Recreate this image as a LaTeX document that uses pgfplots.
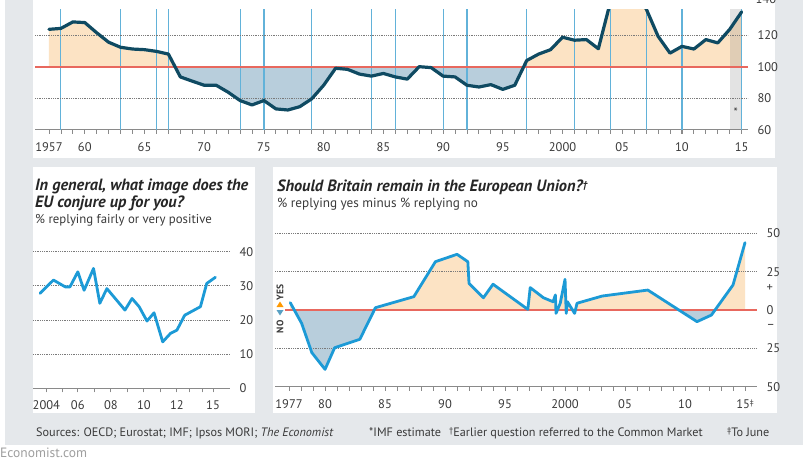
\documentclass[border=0pt]{standalone}
\usepackage{pgfplots}
\pgfplotsset{compat=1.18}
\usepackage{pgfplotstable}
\usepackage{fontspec}
\setmainfont{PT Sans}
\definecolor{bg}{HTML}{E5E8EB}
\definecolor{peach}{HTML}{FCE3C4}
\definecolor{bluefill}{HTML}{B8CEDC}
\definecolor{darkline}{HTML}{0F4A62}
\definecolor{vblue}{HTML}{62B2D9}
\definecolor{redline}{HTML}{E8685E}
\definecolor{brightblue}{HTML}{1C9AD6}
\definecolor{axisgray}{HTML}{8A8A8A}
\definecolor{labelgray}{HTML}{3A3A3A}
\definecolor{gridgray}{HTML}{7A7A7A}

\pgfplotstableread{
x y
1957 123.9
1958 124.5
1959 128.6
1960 128.2
1961 121.7
1962 115.7
1963 112.5
1964 111.4
1965 111.0
1966 109.9
1967 108.2
1968 93.7
1969 91.0
1970 88.4
1971 88.4
1972 84.0
1973 78.7
1974 75.9
1975 78.7
1976 73.4
1977 72.7
1978 74.8
1979 79.8
1980 88.4
1981 99.2
1982 98.5
1983 95.5
1984 94.2
1985 95.9
1986 93.7
1987 92.3
1988 100.2
1989 99.6
1990 94.2
1991 93.7
1992 88.4
1993 87.3
1994 88.8
1995 85.8
1996 88.4
1997 104.1
1998 108.2
1999 111.0
2000 118.9
2001 117.0
2002 117.4
2003 111.6
2004 141.0
2005 146.0
2006 145.0
2007 137.0
2008 119.5
2009 108.8
2010 113.1
2011 111.4
2012 117.4
2013 115.3
2014 123.9
2015 135.0
}\topdata

\pgfplotstableread{
x y
2004.0 27.8
2004.85 31.7
2005.6 29.7
2005.9 29.7
2006.4 34.1
2006.8 28.7
2007.4 35.1
2007.8 24.9
2008.25 29.2
2009.4 22.9
2009.85 26.3
2010.3 23.9
2010.8 19.7
2011.25 22.1
2011.8 13.6
2012.3 16.1
2012.7 17.0
2013.2 21.4
2014.2 23.9
2014.6 30.7
2015.15 32.5
}\imagedata

\pgfplotstableread{
x y
1977.1 4.8
1978.05 -8.7
1978.9 -27.8
1980.0 -38.7
1980.8 -24.6
1982.9 -19.1
1984.2 1.5
1987.4 8.7
1989.2 31.5
1991.0 36.3
1991.9 31.5
1992.0 17.4
1993.2 8.0
1994.0 16.8
1996.9 0.4
1997.1 14.6
1998.2 8.0
1999.0 5.4
1999.2 9.8
1999.25 -2.2
1999.6 4.4
2000.0 20.0
2000.1 -2.2
2000.2 5.4
2000.8 -2.2
2001.0 4.4
2003.1 9.1
2006.9 13.0
2011.0 -7.6
2012.2 -3.3
2014.0 16.3
2015.0 43.9
}\remaindata

\newcommand{\tlfont}{\fontsize{12.5}{14}\selectfont}

\pgfplotsset{
  econ/.style={
    scale only axis, anchor=south west, enlargelimits=false,
    axis x line*=bottom, axis y line*=right,
    y axis line style={draw=none},
    x axis line style={draw=axisgray, line width=1pt},
    tick align=outside,
    major tick length=4pt, minor tick length=4pt,
    xtick style={draw=axisgray, line width=0.8pt},
    minor tick style={draw=axisgray, line width=0.8pt},
    ytick style={draw=none},
    ticklabel style={font=\tlfont, text=labelgray},
    yticklabel style={anchor=west, xshift=2pt},
    xticklabel style={yshift=-5pt},
    clip=true,
  },
  fillax/.style={scale only axis, anchor=south west, hide axis, enlargelimits=false, clip=true},
}

\begin{document}
\begin{tikzpicture}[x=1pt,y=1pt]
\path[use as bounding box] (0,0) rectangle (803,461);
\clip (0,0) rectangle (803,461);
\fill[white] (0,0) rectangle (803,461);
\fill[bg] (5,16) rectangle (803,461);
\fill[white] (33,303) rectangle (775,461);
\fill[white] (33,48) rectangle (255,294);
\fill[white] (273,48) rectangle (777,294);

% ---------------- top panel: fills (clipped half-axes) ----------------
\begin{axis}[fillax, at={(35pt,394pt)}, width=713pt, height=57.5pt,
  xmin=1955.83, xmax=2015.53, ymin=100, ymax=136.5]
\addplot[fill=peach, draw=none] table[x=x,y=y] {\topdata} -- (axis cs:2015,100) -- (axis cs:1957,100) -- cycle;
\end{axis}
\begin{axis}[fillax, at={(35pt,331pt)}, width=713pt, height=63pt,
  xmin=1955.83, xmax=2015.53, ymin=60, ymax=100]
\addplot[fill=bluefill, draw=none] table[x=x,y=y] {\topdata} -- (axis cs:2015,100) -- (axis cs:1957,100) -- cycle;
\end{axis}

% ---------------- top panel ----------------
\begin{axis}[econ,
  at={(35pt,331pt)}, width=713pt, height=120.5pt,
  xmin=1955.83, xmax=2015.53, ymin=60, ymax=136.5,
  xtick={1957,1960,1965,1970,1975,1980,1985,1990,1995,2000,2005,2010,2015},
  xticklabels={1957,60,65,70,75,80,85,90,95,2000,05,10,15},
  minor xtick={1958,1959,...,2014},
  ytick={60,80,100,120},
  yticklabels={60,80,100,120},
]
\fill[gray, opacity=0.22] (axis cs:2014,60) rectangle (axis cs:2015,140);
\foreach \yr in {1958,1963,1966,1967,1973,1975,1979,1984,1986,1990,1992,1997,2001,2004,2007,2010,2015}{
  \edef\tmp{\noexpand\draw[vblue, line width=1.1pt] (axis cs:\yr,60) -- (axis cs:\yr,140);}\tmp
}
\draw[gridgray, densely dotted, line width=0.8pt] (axis cs:1955.83,80) -- (axis cs:2015.53,80);
\draw[gridgray, densely dotted, line width=0.8pt] (axis cs:1955.83,120) -- (axis cs:2015.53,120);
\draw[redline, line width=1.1pt] (axis cs:1955.83,100) -- (axis cs:2015.53,100);
\addplot[darkline, line width=3.2pt, line join=round, line cap=round] table[x=x,y=y] {\topdata};
\node[font=\fontsize{12}{12}\selectfont, text=labelgray] at (axis cs:2014.5,71) {*};
\end{axis}
\node[anchor=west, inner sep=0, font=\tlfont, text=labelgray] at (755.5,462) {140};

% ---------------- bottom left ----------------
\begin{axis}[econ,
  at={(33pt,72.7pt)}, width=197pt, height=136.6pt,
  xmin=2003.55, xmax=2016.08, ymin=0, ymax=40,
  xtick={2004.4,2006.4,2008.5,2010.6,2012.7,2015},
  xticklabels={2004,06,08,10,12,15},
  minor xtick={2005.4,2007.45,2009.55,2011.65,2013.5,2014.3},
  ytick={0,10,20,30,40},
  yticklabels={0,10,20,30,40},
]
\foreach \v in {10,20,30,40}{
  \edef\tmp{\noexpand\draw[gridgray, densely dotted, line width=0.8pt] (axis cs:2003.55,\v) -- (axis cs:2016.08,\v);}\tmp
}
\addplot[brightblue, line width=2.8pt, line join=round, line cap=round] table[x=x,y=y] {\imagedata};
\end{axis}

% ---------------- bottom right: fills ----------------
\begin{axis}[fillax, at={(275pt,151pt)}, width=482pt, height=76.7pt,
  xmin=1975.83, xmax=2016.0, ymin=0, ymax=50]
\addplot[fill=peach, draw=none] table[x=x,y=y] {\remaindata} -- (axis cs:2015,0) -- (axis cs:1977.1,0) -- cycle;
\end{axis}
\begin{axis}[fillax, at={(275pt,74.3pt)}, width=482pt, height=76.7pt,
  xmin=1975.83, xmax=2016.0, ymin=-50, ymax=0]
\addplot[fill=bluefill, draw=none] table[x=x,y=y] {\remaindata} -- (axis cs:2015,0) -- (axis cs:1977.1,0) -- cycle;
\end{axis}

% ---------------- bottom right ----------------
\begin{axis}[econ,
  at={(275pt,74.3pt)}, width=482pt, height=153.4pt,
  xmin=1975.83, xmax=2016.0, ymin=-50, ymax=50,
  xtick={1977,1980,1985,1990,1995,2000,2005,2010,2015},
  xticklabels={1977,80,85,90,95,2000,05,10,{15{\fontsize{8}{8}\selectfont\raisebox{2.5pt}{‡}}}},
  minor xtick={1978,1979,...,2014},
  ytick={-50,-25,-11,0,14,25,50},
  yticklabels={50,25,--,0,+,25,50},
]
\foreach \v in {-25,25,50}{
  \edef\tmp{\noexpand\draw[gridgray, densely dotted, line width=0.8pt] (axis cs:1975.83,\v) -- (axis cs:2016,\v);}\tmp
}
\draw[redline, line width=1.1pt] (axis cs:1976.7,0) -- (axis cs:2016,0);
\addplot[brightblue, line width=2.8pt, line join=round, line cap=round] table[x=x,y=y] {\remaindata};
\end{axis}

% YES / NO marker
\node[rotate=90, font=\bfseries\fontsize{9.5}{10}\selectfont, text=labelgray, inner sep=0] at (280,168.5) {YES};
\fill[orange!80!yellow] (276.5,154) -- (283.5,154) -- (280,159.5) -- cycle;
\fill[vblue!90!black] (276.5,151) -- (283.5,151) -- (280,145.5) -- cycle;
\node[rotate=90, font=\bfseries\fontsize{9.5}{10}\selectfont, text=labelgray, inner sep=0] at (280,134.3) {NO};

% titles
\node[anchor=base west, inner sep=0, font=\bfseries\itshape\fontsize{16.3}{17}\selectfont, text=black!85] at (35,270) {In general, what image does the};
\node[anchor=base west, inner sep=0, font=\bfseries\itshape\fontsize{16.3}{17}\selectfont, text=black!85] at (35,253) {EU conjure up for you?};
\node[anchor=base west, inner sep=0, font=\fontsize{12.8}{13}\selectfont, text=labelgray] at (35,237.5) {\% replying fairly or very positive};
\node[anchor=base west, inner sep=0, font=\bfseries\itshape\fontsize{16.3}{17}\selectfont, text=black!85] at (277,269.5) {Should Britain remain in the European Union?\raisebox{3pt}{\fontsize{10}{10}\selectfont†}};
\node[anchor=base west, inner sep=0, font=\fontsize{13.2}{14}\selectfont, text=labelgray] at (277,253.5) {\% replying yes minus \% replying no};

% footer
\node[anchor=base west, inner sep=0, font=\fontsize{12.2}{13}\selectfont, text=labelgray] at (36,25) {Sources: OECD; Eurostat; IMF; Ipsos MORI; \textit{The Economist}};
\node[anchor=base west, inner sep=0, font=\fontsize{12.2}{13}\selectfont, text=labelgray] at (369,25) {*IMF estimate};
\node[anchor=base west, inner sep=0, font=\fontsize{12.2}{13}\selectfont, text=labelgray] at (449,25) {\raisebox{2.5pt}{\fontsize{8.5}{8.5}\selectfont†}Earlier question referred to the Common Market};
\node[anchor=base west, inner sep=0, font=\fontsize{12.2}{13}\selectfont, text=labelgray] at (727,25) {\raisebox{2.5pt}{\fontsize{8.5}{8.5}\selectfont‡}To June};
\node[anchor=base west, inner sep=0, font=\fontsize{13.5}{14}\selectfont, text=gray!75] at (0,4) {Economist.com};
\end{tikzpicture}
\end{document}
